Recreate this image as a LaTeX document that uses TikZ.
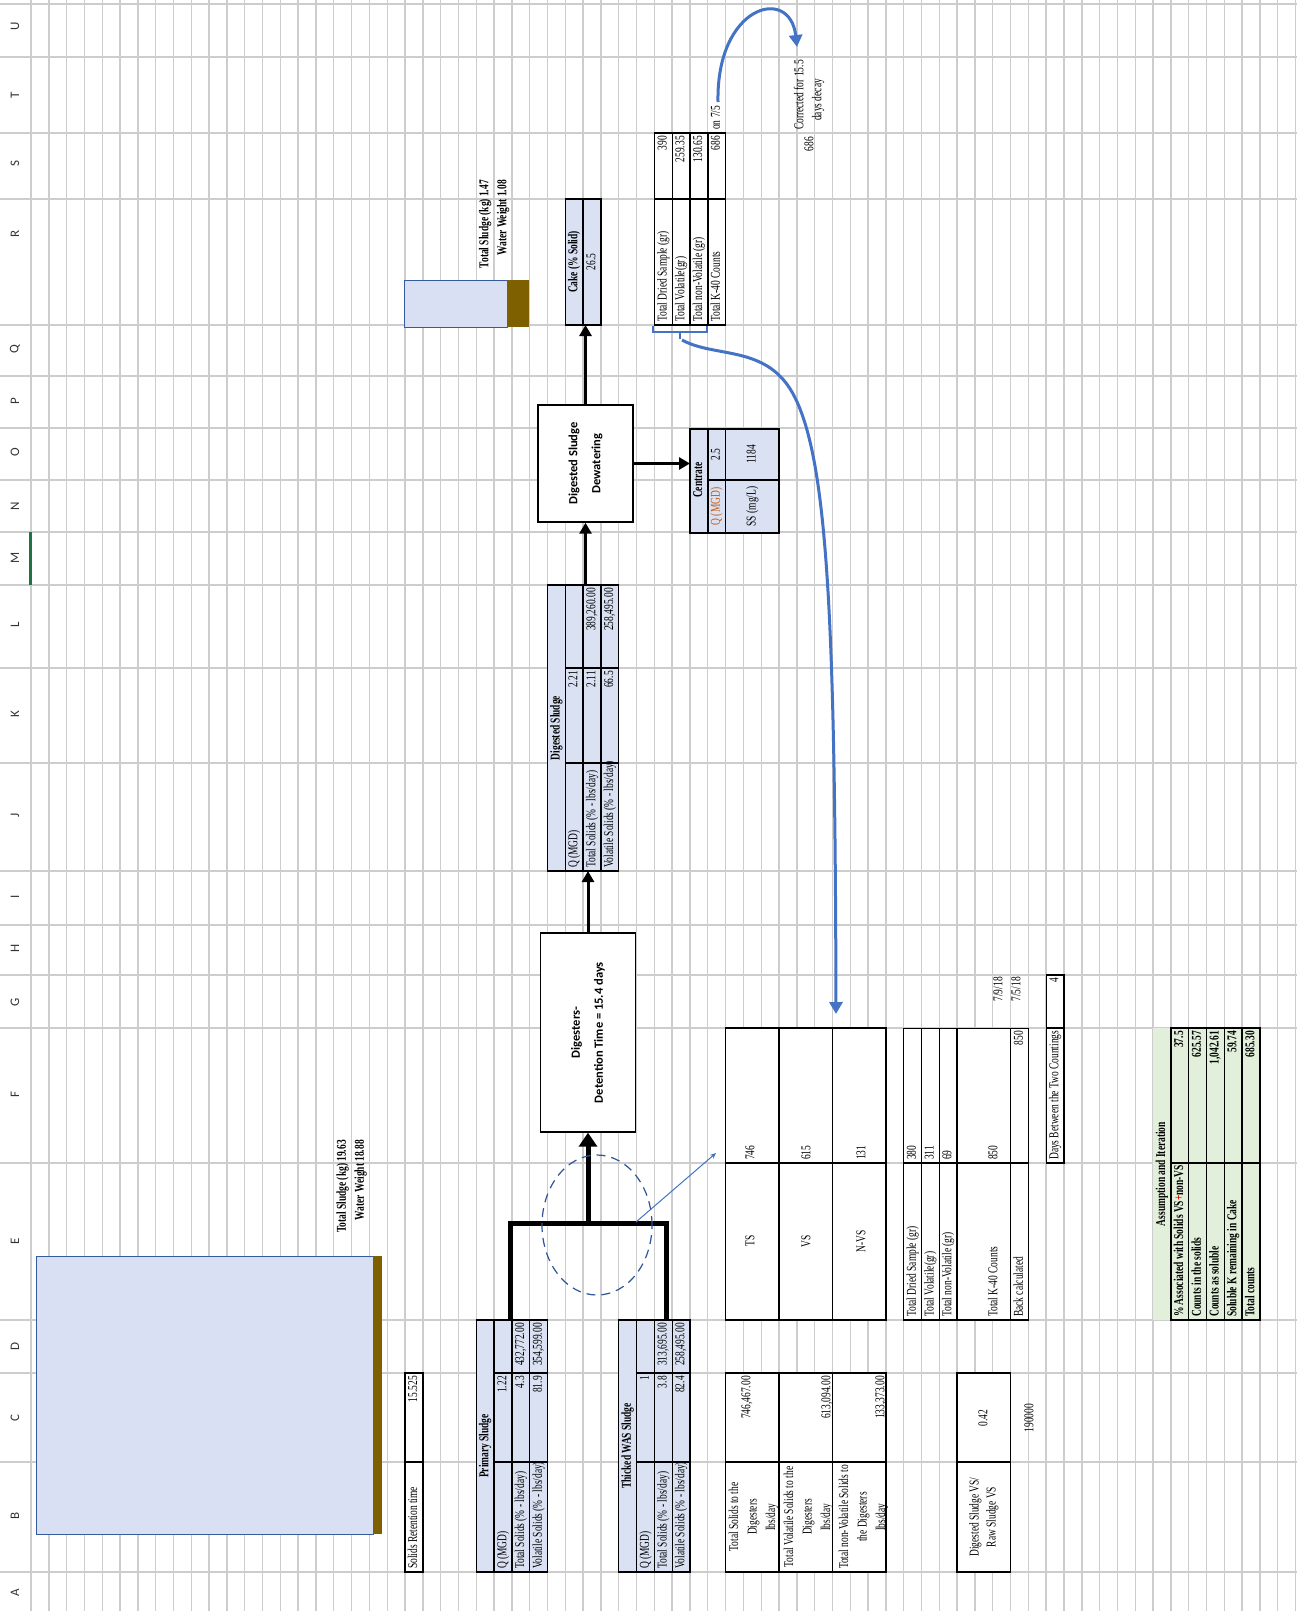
\documentclass[tikz,border=0pt]{standalone}
\usepackage{fontspec}
\setmainfont{Liberation Serif}
\newfontfamily\tnr{Liberation Serif}[FakeStretch=0.7]
\newfontfamily\calib{Carlito}
\usetikzlibrary{arrows.meta,shapes.geometric}
\definecolor{cellblue}{HTML}{D9E1F2}
\definecolor{bigblue}{HTML}{DAE0F4}
\definecolor{brownbar}{HTML}{7F6000}
\definecolor{cellgreen}{HTML}{E2EFDA}
\definecolor{arrowblue}{HTML}{4472C4}
\definecolor{dashblue}{HTML}{2F5597}
\definecolor{gridgray}{HTML}{CDCDCD}
\definecolor{xlgreen}{HTML}{217346}
\definecolor{orangetxt}{HTML}{C55A11}
\newcommand\fsn{\tnr\fontsize{13.5}{17.5}\selectfont}
\newcommand\fsb{\tnr\bfseries\fontsize{13.5}{17.5}\selectfont}
\newcommand\fss{\tnr\bfseries\fontsize{13.5}{17.8}\selectfont}
\tikzset{
  gl/.style={draw=gridgray, line width=1.4pt},
  cb/.style={draw=black, line width=1.4pt},
  tx/.style={rotate=90, inner sep=0pt, text height=9.5pt, text depth=3pt, font=\fsn},
  txl/.style={tx, anchor=west},
  txr/.style={tx, anchor=east},
  colhdr/.style={rotate=90, inner sep=0pt, font=\calib\fontsize{13}{14}\selectfont, text=black!80},
  flowln/.style={line width=3pt, draw=black},
  arrtip/.style={-{Triangle[length=11pt,width=12pt]}},
  bluecurve/.style={draw=arrowblue, line width=3pt, -{Triangle[length=12pt,width=13pt]}},
  procbox/.style={draw=black, line width=1.4pt, fill=white, inner sep=0pt},
  proctext/.style={rotate=90, align=center, font=\calib\bfseries\fontsize{12.5}{23}\selectfont},
  multi/.style={tx, align=center, text height=, text depth=},
}
\begin{document}
\begin{tikzpicture}[x=1pt,y=-1pt]
\useasboundingbox (0,0) rectangle (1297,1611);
\fill[white] (0,0) rectangle (1297,1611);
% grid
\foreach \k in {0,...,71} \draw[gl] ({31+17.81*\k},0) -- ({31+17.81*\k},1611);
\foreach \yy in {4,57,133,199,325,376,428,480,532,585,668,763,871,925,975,1028,1163,1320,1373,1462,1572}
  \draw[gl] (0,\yy) -- (1297,\yy);
% column letters
\foreach \L/\yy in {U/26,T/95,S/164,R/234,Q/349,P/401,O/452,N/506,M/558,L/625,K/714,J/815,I/897,H/948,G/1002,F/1094,E/1241,D/1346,C/1418,B/1516,A/1593}
  \node[colhdr] (hdr\L) at (15,\yy) {\L};
\fill[xlgreen] (28.5,532) rectangle (32,585);

% big sludge bars
\fill[bigblue] (36,1256) rectangle (373,1534);
\draw[arrowblue!80!black, line width=0.9pt] (36,1256) rectangle (373,1534);
\fill[brownbar] (373,1256) rectangle (382,1534);
\node[txr,font=\fss] (ts1) at (342.7,1140) {Total Sludge (kg) 19.63};
\node[txr,font=\fss] (ww1) at (360.5,1140) {Water Weight 18.88};

\fill[bigblue] (404,280) rectangle (507,327);
\draw[arrowblue!80!black, line width=0.9pt] (404,280) rectangle (507,327);
\fill[brownbar] (507,280) rectangle (529,327);
\node[txr,font=\fss] (ts2) at (485.2,180) {Total Sludge (kg) 1.47};
\node[txr,font=\fss] (ww2) at (503,180) {Water Weight 1.08};

% Solids retention
\draw[cb,fill=white] (405,1373) rectangle (422.8,1572);
\draw[cb] (405,1462) -- (422.8,1462);
\node[txl] (srt) at (413.9,1569) {Solids Retention time};
\node[txr] (srtv) at (413.9,1376) {15.525};

% Primary sludge
\fill[cellblue] (476.3,1320) rectangle (547.5,1572);
\draw[cb] (476.3,1320) rectangle (547.5,1572);
\foreach \xx in {494.1,511.9,529.7} \draw[cb] (\xx,1320) -- (\xx,1572);
\draw[cb] (494.1,1373) -- (547.5,1373) (494.1,1462) -- (547.5,1462);
\node[tx,font=\fsb] (psh) at (485.2,1446) {Primary Sludge};
\node[txl] (psq) at (503,1569) {Q (MGD)};
\node[txr] (psqv) at (503,1376) {1.22};
\node[txl] (pst) at (520.8,1569) {Total Solids (\% - lbs/day)};
\node[txr] (pstv) at (520.8,1376) {4.3};
\node[txr] (pstl) at (520.8,1323) {432,772.00};
\node[txl] (psv) at (538.6,1569) {Volatile Solids (\% - lbs/day)};
\node[txr] (psvv) at (538.6,1376) {81.9};
\node[txr] (psvl) at (538.6,1323) {354,599.00};

% Thicked WAS sludge
\fill[cellblue] (618.7,1320) rectangle (690,1572);
\draw[cb] (618.7,1320) rectangle (690,1572);
\foreach \xx in {636.5,654.4,672.2} \draw[cb] (\xx,1320) -- (\xx,1572);
\draw[cb] (636.5,1373) -- (690,1373) (636.5,1462) -- (690,1462);
\node[tx,font=\fsb] (wsh) at (627.6,1446) {Thicked WAS Sludge};
\node[txl] (wsq) at (645.5,1569) {Q (MGD)};
\node[txr] (wsqv) at (645.5,1376) {1};
\node[txl] (wst) at (663.3,1569) {Total Solids (\% - lbs/day)};
\node[txr] (wstv) at (663.3,1376) {3.8};
\node[txr] (wstl) at (663.3,1323) {313,695.00};
\node[txl] (wsv) at (681.1,1569) {Volatile Solids (\% - lbs/day)};
\node[txr] (wsvv) at (681.1,1376) {82.4};
\node[txr] (wsvl) at (681.1,1323) {258,495.00};

% totals to digesters
\draw[cb,fill=white] (725.6,1373) rectangle (885.9,1572);
\draw[cb] (779,1373) -- (779,1572) (832.5,1373) -- (832.5,1572) (725.6,1462) -- (885.9,1462);
\node[multi,font=\tnr\fontsize{13.5}{18.5}\selectfont] (tt1) at (753.5,1517) {Total Solids to the\\Digesters\\lbs/day};
\node[multi,font=\tnr\fontsize{13.5}{18.5}\selectfont] (tt2) at (808.5,1517) {Total Volatile Solids to the\\Digesters\\lbs/day};
\node[multi,font=\tnr\fontsize{13.5}{18.5}\selectfont] (tt3) at (863.5,1517) {Total non-Volatile Solids to\\the Digesters\\lbs/day};
\node[txr] (tt1v) at (747,1376) {746,467.00};
\node[txr] (tt2v) at (827,1376) {613,094.00};
\node[txr] (tt3v) at (881,1376) {133,373.00};

% TS VS N-VS
\draw[cb,fill=white] (725.6,1028) rectangle (885.9,1320);
\draw[cb] (779,1028) -- (779,1320) (832.5,1028) -- (832.5,1320) (725.6,1163) -- (885.9,1163);
\node[tx] (tsl) at (751,1241) {TS};
\node[tx] (vsl) at (807,1241) {VS};
\node[tx] (nvsl) at (862,1241) {N-VS};
\node[txl] (tsv) at (751,1160) {746};
\node[txl] (vsv) at (807,1160) {615};
\node[txl] (nvsv) at (862,1160) {131};

% digested VS / raw VS
\draw[cb,fill=white] (957.1,1373) rectangle (1010.6,1572);
\draw[cb] (957.1,1462) -- (1010.6,1462);
\node[multi,font=\tnr\fontsize{13.5}{17}\selectfont] (dvr) at (984,1517) {Digested Sludge VS/\\Raw Sludge VS};
\node[tx] (dvrv) at (984,1418) {0.42};
\node[tx] (n190) at (1030,1418) {190000};

% lower middle table
\draw[cb,fill=white] (903.7,1028.4) rectangle (1028.4,1320);
\foreach \xx in {921.5,939.3,957.1,1010.6} \draw[cb] (\xx,1028.4) -- (\xx,1320);
\draw[cb] (903.7,1163) -- (1028.4,1163);
\node[txl] (lm1) at (912.6,1317) {Total Dried Sample (gr)};
\node[txl] (lm2) at (930.4,1317) {Total Volatile(gr)};
\node[txl] (lm3) at (948.2,1317) {Total non-Volatile (gr)};
\node[txl] (lm4) at (994,1317) {Total K-40 Counts};
\node[txl] (lm5) at (1019.5,1317) {Back calculated};
\node[txl] (lm1v) at (912.6,1160) {380};
\node[txl] (lm2v) at (930.4,1160) {311};
\node[txl] (lm3v) at (948.2,1160) {69};
\node[txl] (lm4v) at (994,1160) {850};
\node[txr] (lm5v) at (1019.5,1031) {850};
\node[txr] (d79) at (999,977) {7/9/18};
\node[txr] (d75) at (1017,977) {7/5/18};

% days box
\draw[cb,fill=white] (1046.2,975) rectangle (1064,1163);
\draw[cb] (1046.2,1028) -- (1064,1028);
\node[txl] (days) at (1055.1,1160) {Days Between the Two Countings};
\node[txr] (daysv) at (1055.1,978) {4};

% assumption table
\fill[cellgreen] (1153,1028) rectangle (1259.9,1320);
\draw[cb] (1170.8,1028) rectangle (1259.9,1320);
\foreach \xx in {1188.7,1206.5,1224.3,1242.1} \draw[cb] (\xx,1028) -- (\xx,1320);
\draw[cb] (1170.8,1163) -- (1259.9,1163);
\node[tx,font=\fsb] (ash) at (1161.9,1174) {Assumption and Iteration};
\node[txl,font=\fsb] (as1) at (1179.8,1317) {\% Associated with Solids VS{\color{red}+}non-VS};
\node[txl,font=\fsb] (as2) at (1197.6,1317) {Counts in the solids};
\node[txl,font=\fsb] (as3) at (1215.4,1317) {Counts as soluble};
\node[txl,font=\fsb] (as4) at (1233.2,1317) {Soluble K remaining in Cake};
\node[txl,font=\fsb] (as5) at (1251,1317) {Total counts};
\node[txr,font=\fsb] (as1v) at (1179.8,1031) {37.5};
\node[txr,font=\fsb] (as2v) at (1197.6,1031) {625.57};
\node[txr,font=\fsb] (as3v) at (1215.4,1031) {1,042.61};
\node[txr,font=\fsb] (as4v) at (1233.2,1031) {59.74};
\node[txr,font=\fsb] (as5v) at (1251,1031) {685.30};

% digested sludge table
\fill[cellblue] (547.5,585) rectangle (618.7,871);
\draw[cb] (547.5,585) rectangle (618.7,871);
\foreach \xx in {565.3,583.1,600.9} \draw[cb] (\xx,585) -- (\xx,871);
\draw[cb] (565.3,668) -- (618.7,668) (565.3,763) -- (618.7,763);
\node[tx,font=\fsb] (dsh) at (556.4,728) {Digested Sludge};
\node[txl] (dsq) at (574.2,868) {Q (MGD)};
\node[txr] (dsqv) at (574.2,671) {2.21};
\node[txl] (dst) at (592,868) {Total Solids (\% - lbs/day)};
\node[txr] (dstv) at (592,671) {2.11};
\node[txr] (dstl) at (592,588) {389,260.00};
\node[txl] (dsv) at (609.8,868) {Volatile Solids (\% - lbs/day)};
\node[txr] (dsvv) at (609.8,671) {66.5};
\node[txr] (dsvl) at (609.8,588) {258,495.00};

% cake
\fill[cellblue] (565.3,199) rectangle (600.9,325);
\draw[cb] (565.3,199) rectangle (600.9,325);
\draw[cb] (583.1,199) -- (583.1,325);
\node[tx,font=\fsb] (cakeh) at (574.2,262) {Cake (\% Solid)};
\node[tx] (cakev) at (592,262) {26.5};

% centrate
\fill[cellblue] (690,429) rectangle (779,533);
\draw[cb] (690,429) rectangle (779,533);
\draw[cb] (707.8,429) -- (707.8,533) (725.6,429) -- (725.6,533) (707.8,480) -- (779,480);
\node[tx,font=\fsb] (cenh) at (698.9,480) {Centrate};
\node[tx,text=orangetxt] (cenq) at (716.7,506.5) {Q (MGD)};
\node[tx] (cenqv) at (716.7,454.5) {2.5};
\node[tx] (cens) at (752.3,506.5) {SS (mg/L)};
\node[tx] (censv) at (752.3,454.5) {1184};

% top right table
\draw[cb,fill=white] (654.4,133) rectangle (725.6,325);
\foreach \xx in {672.2,690,707.8} \draw[cb] (\xx,133) -- (\xx,325);
\draw[cb] (654.4,199) -- (725.6,199);
\node[txl] (tr1) at (663.3,322) {Total Dried Sample (gr)};
\node[txl] (tr2) at (681.1,322) {Total Volatile(gr)};
\node[txl] (tr3) at (698.9,322) {Total non-Volatile (gr)};
\node[txl] (tr4) at (716.7,322) {Total K-40 Counts};
\node[txr] (tr1v) at (663.3,136) {390};
\node[txr] (tr2v) at (681.1,136) {259.35};
\node[txr] (tr3v) at (698.9,136) {130.65};
\node[txr] (tr4v) at (716.7,136) {686};
\node[txl] (on75) at (716.7,130) {on 7/5};
\node[txl] (corr1) at (800,130) {Corrected for 15.5};
\node[txl] (corr2) at (818,121) {days decay};
\node[txr] (c686) at (810,137) {686};

% process boxes
\node[procbox, minimum width=95pt, minimum height=199pt] (dig) at (588,1032.5) {};
\node[proctext] (digt) at (dig.center) {Digesters-\\Detention Time = 15.4 days};
\node[procbox, minimum width=95pt, minimum height=117pt] (dew) at (585.5,463.5) {};
\node[proctext] (dewt) at (dew.center) {Digested Sludge\\Dewatering};

% connectors
\coordinate (pJ) at (510.5,1320);
\coordinate (wJ) at (666,1320);
\coordinate (mJ) at (588,1223);
\draw[line width=5pt, line join=miter] (pJ) -- (510.5,1223) -- (666,1223) -- (wJ);
\draw[line width=5pt, -{Triangle[length=14pt,width=18pt]}] (mJ) -- (dig.south);
\coordinate (dsB) at (588,871);
\coordinate (dsT) at (585.5,585);
\coordinate (cakeB) at (585.5,325);
\coordinate (cenL) at (690,463.5);
\draw[flowln, arrtip] (dig.north) -- (dsB);
\draw[flowln, arrtip] (dsT) -- (dew.south);
\draw[flowln, arrtip] (dew.east) -- (cenL);
\draw[flowln, arrtip] (dew.north) -- (cakeB);

% dashed ellipse and thin arrow
\node[draw=dashblue, dash pattern=on 9pt off 6pt, line width=1.2pt, ellipse, minimum width=110pt, minimum height=140pt, inner sep=0pt] (circ) at (597,1225) {};
\coordinate (thinS) at (636,1222);
\coordinate (tsCorner) at (716,1153);
\draw[arrowblue, line width=1pt, -{Stealth[length=6pt,width=5pt]}] (thinS) -- (tsCorner);

% brace and blue curves
\draw[arrowblue, line width=1.3pt] (653,326) -- (653,332) -- (707,332) -- (707,326);
\coordinate (brM) at (680,332);
\draw[arrowblue, line width=1.3pt] (brM) -- (680,339);
\coordinate (nvsTop) at (836,1014);
\draw[bluecurve] (682,340) .. controls (715,358) and (765,345) .. (792,392) .. controls (828,455) and (835,620) .. (nvsTop);
\coordinate (corrTip) at (797,47);
\draw[bluecurve] (718,102) .. controls (716,5) and (790,-15) .. (corrTip);
\end{tikzpicture}
\end{document}
